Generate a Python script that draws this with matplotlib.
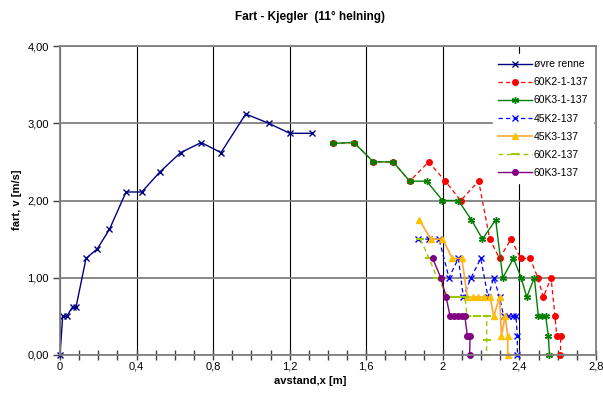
import matplotlib
matplotlib.use("Agg")
import matplotlib.pyplot as plt
from matplotlib.ticker import MultipleLocator, FuncFormatter

plt.rcParams['font.family'] = ['Liberation Sans', 'DejaVu Sans']

# øvre renne
ovre_x = [0, 0.014, 0.035, 0.066, 0.084, 0.136, 0.195, 0.258, 0.345, 0.427, 0.522,
          0.630, 0.738, 0.841, 0.970, 1.090, 1.200, 1.316]
ovre_v = [0, 0.50, 0.50, 0.625, 0.625, 1.25, 1.375, 1.625, 2.11, 2.11, 2.37,
          2.62, 2.75, 2.62, 3.12, 3.00, 2.87, 2.87]

# 60K2-1-137
k2_1_x = [1.428, 1.536, 1.637, 1.740, 1.827, 1.926, 2.013, 2.093, 2.187, 2.245, 2.296,
          2.356, 2.407, 2.456, 2.496, 2.525, 2.565, 2.586, 2.595, 2.616, 2.614]
k2_1_v = [2.74, 2.75, 2.50, 2.50, 2.25, 2.50, 2.25, 2.00, 2.25, 1.50, 1.25,
          1.50, 1.25, 1.25, 1.00, 0.75, 1.00, 0.50, 0.25, 0.25, 0]

# 60K3-1-137
k3_1_x = [1.428, 1.536, 1.637, 1.740, 1.827, 1.916, 1.998, 2.081, 2.149, 2.207, 2.276,
          2.313, 2.369, 2.409, 2.438, 2.478, 2.499, 2.518, 2.537, 2.551, 2.557]
k3_1_v = [2.74, 2.75, 2.50, 2.50, 2.25, 2.25, 2.00, 2.00, 1.75, 1.50, 1.75,
          1.00, 1.25, 1.00, 0.75, 1.00, 0.50, 0.50, 0.50, 0.25, 0]

# 45K2-137
k45_2_x = [1.869, 1.925, 1.980, 2.032, 2.081, 2.107, 2.147, 2.198, 2.236, 2.266, 2.296,
           2.318, 2.342, 2.365, 2.382, 2.389, 2.389]
k45_2_v = [1.50, 1.50, 1.50, 1.00, 1.25, 0.75, 1.00, 1.25, 0.75, 1.00, 0.75,
           0.50, 0.50, 0.50, 0.50, 0.25, 0]

# 45K3-137
k45_3_x = [1.877, 1.937, 1.998, 2.050, 2.099, 2.128, 2.156, 2.186, 2.215, 2.247, 2.266,
           2.296, 2.306, 2.325, 2.339, 2.339]
k45_3_v = [1.75, 1.50, 1.50, 1.25, 1.25, 0.75, 0.75, 0.75, 0.75, 0.75, 0.50,
           0.75, 0.25, 0.50, 0.25, 0]

# 60K2-137
k60_2_x = [1.883, 1.928, 1.970, 2.029, 2.070, 2.116, 2.126, 2.180, 2.229, 2.229, 2.228]
k60_2_v = [1.50, 1.25, 1.00, 0.75, 0.75, 0.75, 0.50, 0.50, 0.50, 0.20, 0]

# 60K3-137
k60_3_x = [1.947, 1.989, 2.017, 2.038, 2.058, 2.077, 2.098, 2.115, 2.128, 2.142, 2.140]
k60_3_v = [1.25, 1.00, 0.75, 0.50, 0.50, 0.50, 0.50, 0.50, 0.25, 0.25, 0]

fig = plt.figure(figsize=(6.03, 3.99), dpi=100)
ax = fig.add_axes([60/603, 1-355/399, 536/603, 309/399])

ax.plot(ovre_x, ovre_v, '-', color='#000080', marker='x', ms=4.5, lw=1, mew=1,
        label='øvre renne', clip_on=False)
ax.plot(k2_1_x, k2_1_v, '--', color='#FF0000', marker='o', ms=4, lw=0.9,
        dashes=(3.5, 2.5), label='60K2-1-137', clip_on=False)
ax.plot(k3_1_x, k3_1_v, '-', color='#008000', marker=(6, 2, 0), ms=5, lw=1, mew=1,
        label='60K3-1-137', clip_on=False)
ax.plot(k45_2_x, k45_2_v, '--', color='#0000FF', marker='x', ms=4.5, lw=0.9, mew=1,
        dashes=(3.5, 2.5), label='45K2-137', clip_on=False)
ax.plot(k45_3_x, k45_3_v, '-', color='#FFA733', marker='^', ms=5, lw=1.2,
        mfc='#FFC000', mec='#FFC000', label='45K3-137', clip_on=False)
ax.plot(k60_2_x, k60_2_v, '--', color='#99CC00', marker='_', ms=6, lw=1, mew=1.5,
        dashes=(3.5, 2.5), label='60K2-137', clip_on=False)
ax.plot(k60_3_x, k60_3_v, '-', color='#800080', marker='o', ms=4, lw=1,
        label='60K3-137', clip_on=False)

ax.set_xlim(0, 2.8)
ax.set_ylim(0, 4)
ax.xaxis.set_major_locator(MultipleLocator(0.4))
ax.xaxis.set_minor_locator(MultipleLocator(0.1))
ax.yaxis.set_major_locator(MultipleLocator(1))
ax.xaxis.set_major_formatter(FuncFormatter(lambda v, p: f'{v:g}'.replace('.', ',')))
ax.yaxis.set_major_formatter(FuncFormatter(lambda v, p: f'{v:.2f}'.replace('.', ',')))

ax.grid(axis='y', color='#808080', lw=1.3)
ax.grid(axis='x', which='major', color='black', lw=0.8)
ax.set_axisbelow(True)
for s in ax.spines.values():
    s.set_color('#808080')
    s.set_linewidth(1.3)

ax.tick_params(axis='x', which='both', direction='inout', length=7, width=1,
               color='#404040', labelsize=8, pad=1.5)
ax.tick_params(axis='y', direction='out', length=5, width=1, color='#404040',
               labelsize=8, pad=3)

fig.text(310/603, 1-17/399, 'Fart - Kjegler  (11° helning)', ha='center', va='center',
         fontsize=8.5, fontweight='bold')
fig.text(310/603, 1-381/399, 'avstand,x [m]', ha='center', va='center',
         fontsize=8, fontweight='bold')
fig.text(17/603, 1-200/399, 'fart, v [m/s]', ha='center', va='center', rotation=90,
         fontsize=8, fontweight='bold')

leg = ax.legend(loc='upper left', bbox_to_anchor=(493/603, 1-54/399),
                bbox_transform=fig.transFigure, fontsize=7.5, frameon=True,
                fancybox=False, facecolor='white', edgecolor='white', framealpha=1,
                handlelength=3.2, handletextpad=0.2, labelspacing=0.78,
                borderpad=0.5, borderaxespad=0)
leg.set_zorder(10)

fig.savefig('out.png', dpi=100)
